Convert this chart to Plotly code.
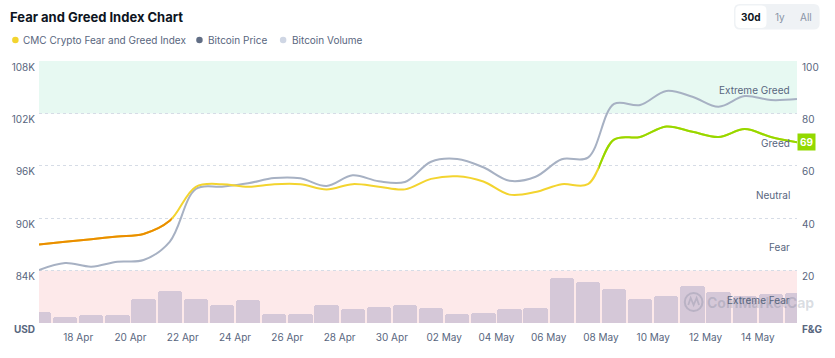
import plotly.graph_objects as go
import pandas as pd

# ---------------- data ----------------
dates = pd.date_range("2025-04-16 12:00", "2025-05-15 12:00", freq="D")
fear_greed = [30, 31, 32, 33, 34, 39, 52, 53, 52, 53, 53, 51, 53, 52, 51,
              55, 56, 54, 49, 50, 53, 53, 70, 71, 75, 73, 71, 74, 71, 69]
btc_price_k = [84.07, 84.87, 84.45, 85.02, 85.21, 87.30, 93.34, 93.61, 94.00, 94.60,
               94.57, 93.69, 94.91, 94.23, 94.15, 96.47, 96.78, 95.83, 94.29, 94.75,
               96.75, 96.93, 103.08, 102.96, 104.57, 103.91, 102.77, 103.99, 103.53, 103.65]
btc_volume_b = [22.5, 18.3, 19.8, 19.8, 32.0, 38.0, 32.0, 27.3, 31.3, 20.8,
                20.8, 27.5, 24.5, 25.8, 27.5, 25.0, 20.5, 21.7, 24.5, 25.0,
                48.0, 45.0, 39.5, 32.0, 34.0, 41.8, 37.0, 34.5, 36.0, 36.5]

price_tickvals = [78, 84, 90, 96, 102, 108]
price_ticktext = ["<b>USD</b>", "84K", "90K", "96K", "102K", "108K"]
fg_tickvals = [0, 20, 40, 60, 80, 100]
fg_ticktext = ["<b>F&G</b>", "20", "40", "60", "80", "100"]
zone_bounds = [0, 20, 40, 60, 80, 100]
zone_names = ["Extreme Fear", "Fear", "Neutral", "Greed", "Extreme Greed"]
legend_names = ["CMC Crypto Fear and Greed Index", "Bitcoin Price", "Bitcoin Volume"]
range_buttons = ["30d", "1y", "All"]
x_tick0 = "2025-04-18"

# ---------------- styles ----------------
W, H = 835, 358
ML, MR, MT, MB = 36, 29, 61, 35
PW, PH = W - ML - MR, H - MT - MB
FONT = "Inter"
GREY = "#58667E"
DARK = "#0D1421"
C_FEAR = "#EA8C00"
C_NEUTRAL = "#F3D42F"
C_GREED = "#93D900"
C_PRICE = "#A7B1C3"
C_VOL = "#D5C8D8"
VOL_RANGE = [14, 210.5]
TICK_SIZE = 10
LABEL_SIZE = 10


def px(x):
    return (x - ML) / PW


def py(y):
    return (MT + PH - y) / PH


t0, t1 = dates[0], dates[-1]


def crossing(thr):
    for i in range(len(fear_greed) - 1):
        a, b = fear_greed[i], fear_greed[i + 1]
        if a < thr <= b:
            f = (thr - a) / (b - a)
            return dates[i] + (dates[i + 1] - dates[i]) * f
    return t1


def frac(t):
    return (t - t0) / (t1 - t0)


c40 = crossing(40)
c60 = crossing(60)

fig = go.Figure()

# volume bars
fig.add_trace(go.Bar(x=dates, y=btc_volume_b, xaxis="x", yaxis="y",
                     width=0.93 * 86400000, marker=dict(color=C_VOL, cornerradius=3, line=dict(width=0)),
                     hoverinfo="skip", showlegend=False))
# price line
fig.add_trace(go.Scatter(x=dates, y=btc_price_k, xaxis="x", yaxis="y2", mode="lines",
                         line=dict(color=C_PRICE, width=2, shape="spline", smoothing=1, simplify=False),
                         hoverinfo="skip", showlegend=False))
# fear & greed: full line (neutral colour), then coloured overlays clipped by sub-domains
fig.add_trace(go.Scatter(x=dates, y=fear_greed, xaxis="x", yaxis="y3", mode="lines",
                         line=dict(color=C_NEUTRAL, width=2, shape="spline", smoothing=1, simplify=False),
                         hoverinfo="skip", showlegend=False))
fig.add_trace(go.Scatter(x=dates, y=fear_greed, xaxis="x2", yaxis="y4", mode="lines",
                         line=dict(color=C_FEAR, width=2, shape="spline", smoothing=1, simplify=False),
                         hoverinfo="skip", showlegend=False))
fig.add_trace(go.Scatter(x=dates, y=fear_greed, xaxis="x3", yaxis="y5", mode="lines",
                         line=dict(color=C_GREED, width=2, shape="spline", smoothing=1, simplify=False),
                         hoverinfo="skip", showlegend=False))

tickfont = dict(family=FONT, size=TICK_SIZE, color=GREY)
hidden = dict(visible=False, showgrid=False, zeroline=False, fixedrange=True)

layout = dict(
    width=W, height=H,
    margin=dict(l=ML, r=MR, t=MT, b=MB),
    paper_bgcolor="white", plot_bgcolor="rgba(0,0,0,0)",
    showlegend=False, hovermode=False, bargap=0,
    font=dict(family=FONT, color=GREY),
    xaxis=dict(domain=[0, 1], type="date", range=[t0, t1], anchor="y",
               tickformat="%d %b", dtick=2 * 86400000, tick0=x_tick0,
               showgrid=False, zeroline=False, showline=False, ticks="",
               tickfont=tickfont, ticklabelstandoff=7, fixedrange=True),
    yaxis=dict(domain=[0, 1], range=VOL_RANGE, anchor="x", **hidden),
    yaxis2=dict(overlaying="y", side="left", anchor="x", range=[price_tickvals[0], price_tickvals[-1]],
                tickvals=price_tickvals, ticktext=price_ticktext, tickfont=tickfont,
                showgrid=True, gridcolor="#D6DCE6", griddash="dot", gridwidth=1,
                zeroline=False, ticks="", ticklabelstandoff=3, ticklabelshift=6, fixedrange=True),
    yaxis3=dict(overlaying="y", side="right", anchor="x", range=[zone_bounds[0], zone_bounds[-1]],
                tickvals=fg_tickvals, ticktext=fg_ticktext, tickfont=tickfont,
                showgrid=False, zeroline=False, ticks="", ticklabelstandoff=4, ticklabelshift=6,
                fixedrange=True),
    xaxis2=dict(domain=[0, frac(c40)], type="date", range=[t0, c40], anchor="y4", **hidden),
    yaxis4=dict(domain=[0, 1], range=[zone_bounds[0], zone_bounds[-1]], anchor="x2", **hidden),
    xaxis3=dict(domain=[frac(c60), 1], type="date", range=[c60, t1], anchor="y5", **hidden),
    yaxis5=dict(domain=[0, 1], range=[zone_bounds[0], zone_bounds[-1]], anchor="x3", **hidden),
)
fig.update_layout(**layout)

shapes = []
fg_span = zone_bounds[-1] - zone_bounds[0]
# zone bands
shapes.append(dict(type="rect", xref="paper", yref="paper", x0=0, x1=1,
                   y0=(zone_bounds[4] - zone_bounds[0]) / fg_span, y1=1,
                   fillcolor="rgba(22,199,132,0.10)", line=dict(width=0), layer="below"))
shapes.append(dict(type="rect", xref="paper", yref="paper", x0=0, x1=1,
                   y0=0, y1=(zone_bounds[1] - zone_bounds[0]) / fg_span,
                   fillcolor="rgba(234,57,67,0.11)", line=dict(width=0), layer="below"))


def rrect(x0, y0, x1, y1, r):
    return (f"M {px(x0 + r)},{py(y0)} L {px(x1 - r)},{py(y0)} Q {px(x1)},{py(y0)} {px(x1)},{py(y0 + r)} "
            f"L {px(x1)},{py(y1 - r)} Q {px(x1)},{py(y1)} {px(x1 - r)},{py(y1)} "
            f"L {px(x0 + r)},{py(y1)} Q {px(x0)},{py(y1)} {px(x0)},{py(y1 - r)} "
            f"L {px(x0)},{py(y0 + r)} Q {px(x0)},{py(y0)} {px(x0 + r)},{py(y0)} Z")


shapes.append(dict(type="path", xref="paper", yref="paper", path=rrect(742, 4, 829, 29.5, 6),
                   fillcolor="#EFF2F5", line=dict(width=0)))
shapes.append(dict(type="path", xref="paper", yref="paper", path=rrect(743.5, 5.5, 775, 28, 5),
                   fillcolor="white", line=dict(width=0)))

# legend dots
legend_dot_x = [12, 199, 284]
legend_text_x = [18, 206, 291]
legend_colors = [C_NEUTRAL, "#616E85", "#CFD6E4"]
for cx, col in zip(legend_dot_x, legend_colors):
    shapes.append(dict(type="circle", xref="paper", yref="paper",
                       x0=px(cx - 3.3), x1=px(cx + 3.3), y0=py(40 + 3.3), y1=py(40 - 3.3),
                       fillcolor=col, line=dict(width=0)))

# watermark logo
wm = "rgba(88,102,126,0.22)"
shapes.append(dict(type="circle", xref="paper", yref="paper",
                   x0=px(692), x1=px(710), y0=py(311), y1=py(293),
                   line=dict(color=wm, width=2)))
shapes.append(dict(type="path", xref="paper", yref="paper",
                   path=f"M {px(695.5)},{py(305)} L {px(698)},{py(298)} L {px(701)},{py(305)} "
                        f"L {px(704)},{py(298)} L {px(706.5)},{py(305)}",
                   line=dict(color=wm, width=1.8)))
fig.update_layout(shapes=shapes)

ann = []
ann.append(dict(xref="paper", yref="paper", x=px(5), y=py(17), xanchor="left", yanchor="middle",
                text="<b>Fear and Greed Index Chart</b>", showarrow=False,
                font=dict(family=FONT, size=13, color=DARK)))
for tx, name in zip(legend_text_x, legend_names):
    ann.append(dict(xref="paper", yref="paper", x=px(tx), y=py(40), xanchor="left", yanchor="middle",
                    text=name, showarrow=False, font=dict(family=FONT, size=LABEL_SIZE, color=GREY)))
# range buttons
btn_x = [759, 788.5, 815]
for bx, label, i in zip(btn_x, range_buttons, range(3)):
    ann.append(dict(xref="paper", yref="paper", x=px(bx), y=py(16.5), xanchor="center", yanchor="middle",
                    text=f"<b>{label}</b>" if i == 0 else label, showarrow=False,
                    font=dict(family=FONT, size=10, color=DARK if i == 0 else "#8A94A6")))
# watermark text
ann.append(dict(xref="paper", yref="paper", x=px(713), y=py(302), xanchor="left", yanchor="middle",
                text="<b>CoinMarketCap</b>", showarrow=False, font=dict(family=FONT, size=14, color=wm)))
# zone labels
for lo, hi, name in zip(zone_bounds[:-1], zone_bounds[1:], zone_names):
    ann.append(dict(xref="paper", yref="y3", x=px(801), y=(lo + hi) / 2, yshift=-3,
                    xanchor="right", yanchor="middle", text=name, showarrow=False,
                    font=dict(family=FONT, size=LABEL_SIZE, color=GREY)))
# current value badge
ann.append(dict(xref="paper", yref="y3", x=px(806), y=fear_greed[-1], xanchor="left", yanchor="middle",
                text=f"<b>{fear_greed[-1]}</b>", showarrow=False, bgcolor=C_GREED, borderpad=2,
                font=dict(family=FONT, size=10, color="white")))
fig.update_layout(annotations=ann)

fig.write_html("out.html", config={"displayModeBar": False},
               post_script="document.body.style.margin='0px';document.body.style.padding='0px';")
